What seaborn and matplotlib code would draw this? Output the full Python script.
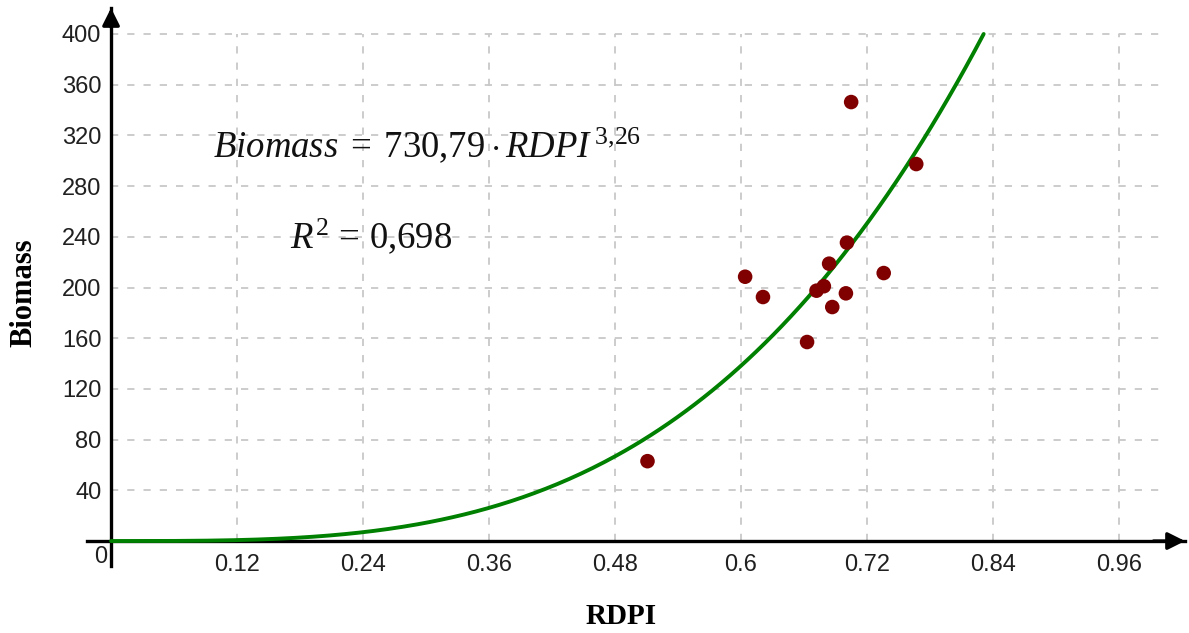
import numpy as np
import pandas as pd
import matplotlib
matplotlib.use("Agg")
import matplotlib.pyplot as plt
import seaborn as sns

# ---- data ----
rdpi = [0.511, 0.604, 0.621, 0.663, 0.672, 0.679, 0.684, 0.687,
        0.700, 0.701, 0.705, 0.736, 0.767]
biomass = [63, 208.5, 192.5, 157, 197.5, 201, 218.8, 184.6,
           195.4, 235.4, 346.3, 211.4, 297.4]

# fitted model shown on the chart
coef_a = 730.79
coef_b = 3.26
r2_text = "0,698"

x_ticks = [0.12, 0.24, 0.36, 0.48, 0.6, 0.72, 0.84, 0.96]
x_tick_labels = ["0.12", "0.24", "0.36", "0.48", "0.6", "0.72", "0.84", "0.96"]
y_ticks = [40, 80, 120, 160, 200, 240, 280, 320, 360, 400]
y_tick_labels = [str(v) for v in y_ticks]
grid_x_end = 1.0
grid_y_end = 400
curve_y_max = 400

df = pd.DataFrame({"RDPI": rdpi, "Biomass": biomass})
x_end = (curve_y_max / coef_a) ** (1 / coef_b)
xc = np.linspace(0, x_end, 300)
curve = pd.DataFrame({"RDPI": xc, "Biomass": coef_a * xc ** coef_b})

sns.set_style("white")
plt.rcParams["font.family"] = ["Liberation Sans", "DejaVu Sans"]
plt.rcParams["mathtext.fontset"] = "custom"
plt.rcParams["mathtext.rm"] = "Liberation Serif"
plt.rcParams["mathtext.it"] = "Liberation Serif:italic"

fig = plt.figure(figsize=(11.89, 6.33), dpi=100)
ax = fig.add_axes([87 / 1189, 1 - 566 / 633, 1098 / 1189, 558 / 633])
xmin, xmax = -0.0229, 1.023
ymin, ymax = -19.7, 420.5
ax.set_xlim(xmin, xmax)
ax.set_ylim(ymin, ymax)

# grid
grid_kw = dict(color="#c8c8c8", lw=1.3, linestyles=(0, (4, 5)), zorder=0)
ax.hlines(y_ticks, 0, grid_x_end, **grid_kw)
ax.vlines(x_ticks, 0, grid_y_end, **grid_kw)

sns.lineplot(data=curve, x="RDPI", y="Biomass", ax=ax, color="#008000",
             lw=2.8, zorder=3)
sns.scatterplot(data=df, x="RDPI", y="Biomass", ax=ax, color="#800000",
                s=110, edgecolor="none", zorder=4)

# axes through origin
for side in ["top", "right"]:
    ax.spines[side].set_visible(False)
for side in ["left", "bottom"]:
    ax.spines[side].set_position(("data", 0))
    ax.spines[side].set_linewidth(2.4)
    ax.spines[side].set_color("black")

arrow_kw = dict(arrowstyle="-|>", color="black", lw=2.4,
                mutation_scale=26, shrinkA=0, shrinkB=0)
ax.annotate("", xy=(xmax, 0), xytext=(xmax - 0.03, 0),
            arrowprops=arrow_kw, annotation_clip=False, zorder=5)
ax.annotate("", xy=(0, ymax), xytext=(0, ymax - 15),
            arrowprops=arrow_kw, annotation_clip=False, zorder=5)

ax.set_xticks(x_ticks)
ax.set_xticklabels(x_tick_labels)
ax.set_yticks(y_ticks)
ax.set_yticklabels(y_tick_labels)
ax.tick_params(axis="both", direction="inout", length=6, width=1.6,
               color="black", labelsize=17, labelcolor="#202020")
ax.tick_params(axis="x", pad=6)
ax.tick_params(axis="y", pad=4)
ax.text(-0.0095, -4, "0", ha="center", va="top", fontsize=17,
        color="#202020")

ax.set_xlabel("")
ax.set_ylabel("")
fig.text(621 / 1189, 1 - 616 / 633, "RDPI", ha="center", va="center",
         fontsize=21, fontweight="bold", family="Liberation Serif",
         color="black")
fig.text(24 / 1189, 1 - 293 / 633, "Biomass", ha="center", va="center",
         rotation=90, fontsize=22, fontweight="bold", family="Liberation Serif",
         color="black")

ax.text(0.097, 303,
        r"$\mathit{Biomass}\;=\;730{,}79\cdot\mathit{RDPI}^{\,3{,}26}$",
        fontsize=26.5, ha="left", va="baseline", color="#111111")
ax.text(0.170, 231, r"$\mathit{R}^{2}\,=\,0{,}698$",
        fontsize=26.5, ha="left", va="baseline", color="#111111")

fig.savefig("out.png", dpi=100)
